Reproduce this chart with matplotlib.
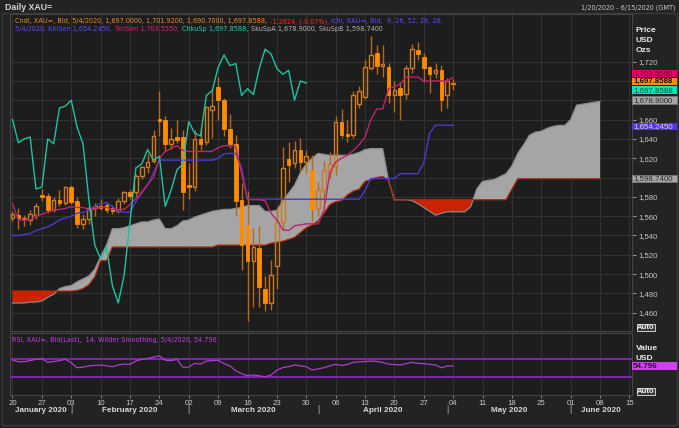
import matplotlib
matplotlib.use("Agg")
import matplotlib.pyplot as plt
import numpy as np
from matplotlib.patches import Rectangle
from matplotlib.transforms import blended_transform_factory

# ---------------- data ----------------
opens = [1558.5, 1561, 1558, 1556, 1561, 1582, 1581, 1566, 1577, 1574,
         1590, 1576, 1552, 1557, 1568, 1571, 1572, 1568, 1565, 1576,
         1585, 1585, 1602, 1611, 1617, 1661, 1660, 1635, 1642, 1642,
         1592, 1590, 1640, 1637, 1670, 1694, 1680, 1650, 1635, 1577,
         1551, 1513, 1527, 1485, 1470, 1508, 1554, 1619, 1615, 1629,
         1616, 1608, 1568, 1587, 1606, 1612, 1658, 1645, 1644, 1676,
         1683, 1713, 1729, 1716, 1714, 1686, 1693, 1687, 1713, 1732,
         1725, 1714, 1708, 1711, 1685, 1697.0]
highs = [1565, 1568, 1561, 1566, 1574, 1588, 1584, 1580, 1587, 1591,
         1592, 1580, 1562, 1570, 1574, 1578, 1575, 1572, 1579, 1586,
         1587, 1604, 1612, 1624, 1649, 1690, 1664, 1651, 1660, 1649,
         1615, 1649, 1652, 1674, 1692, 1704, 1682, 1666, 1644, 1594,
         1586, 1548, 1550, 1498, 1515, 1569, 1632, 1637, 1638, 1641,
         1628, 1623, 1595, 1617, 1626, 1664, 1671, 1660, 1690, 1695,
         1722, 1747, 1737, 1737, 1719, 1700, 1699, 1717, 1738, 1740,
         1729, 1716, 1719, 1717, 1703, 1701.92]
lows = [1555, 1547, 1550, 1551, 1557, 1576, 1563, 1564, 1570, 1572,
        1573, 1548, 1547, 1552, 1560, 1566, 1563, 1562, 1563, 1573,
        1578, 1579, 1598, 1605, 1615, 1643, 1627, 1630, 1636, 1566,
        1578, 1586, 1629, 1634, 1641, 1660, 1643, 1631, 1560, 1504,
        1451, 1466, 1466, 1462, 1463, 1484, 1546, 1595, 1610, 1607,
        1605, 1555, 1560, 1575, 1598, 1603, 1641, 1637, 1641, 1672,
        1681, 1711, 1707, 1704, 1677, 1668, 1660, 1681, 1708, 1722,
        1699, 1688, 1703, 1669, 1672, 1690.7]
closes = [1562, 1558, 1557, 1562, 1570, 1580, 1566, 1577, 1574, 1590,
          1575, 1552, 1557, 1568, 1571, 1568, 1566, 1565, 1576, 1585,
          1581, 1602, 1611, 1616, 1643, 1659, 1635, 1640, 1639, 1585,
          1590, 1640, 1635, 1673, 1674, 1680, 1650, 1635, 1576, 1530,
          1514, 1528, 1487, 1470, 1499, 1554, 1610, 1613, 1629, 1616,
          1622, 1567, 1587, 1608, 1614, 1658, 1644, 1643, 1685, 1690,
          1714, 1727, 1716, 1718, 1685, 1691, 1686, 1713, 1733, 1728,
          1713, 1707, 1711, 1680, 1700, 1697.8588]

tenkan = [1573, 1556, 1556, 1556, 1560, 1562, 1564, 1566, 1567, 1568,
          1570, 1569, 1569, 1567, 1567, 1569, 1569, 1567, 1567, 1567,
          1572, 1578, 1585, 1593, 1600, 1620, 1627, 1630, 1633, 1628,
          1627, 1627, 1627, 1627, 1627, 1631, 1633, 1633, 1632, 1604,
          1577, 1577, 1577, 1576, 1563, 1556, 1546, 1545, 1550, 1551,
          1552, 1552, 1552, 1566, 1605, 1616, 1620, 1623, 1628, 1634,
          1642, 1660, 1671, 1671, 1692, 1694, 1697, 1704, 1704, 1704,
          1700, 1700, 1700, 1700, 1700, 1703.555]
kijun = [1540, 1540, 1541, 1542, 1545, 1547, 1549, 1552, 1556, 1558,
         1560, 1563, 1564, 1566, 1570, 1573, 1574, 1570, 1565, 1564,
         1564, 1575, 1584, 1592, 1605, 1618, 1618, 1618, 1618, 1618,
         1618, 1618, 1618, 1618, 1618, 1620, 1624.6, 1625, 1625, 1610,
         1577.5, 1577.5, 1577.5, 1577.5, 1577.5, 1577.5, 1577.5, 1577.5, 1577.5, 1577.5,
         1577.5, 1577.5, 1577.5, 1577.5, 1577.5, 1577.5, 1577.5, 1577.5, 1577.5, 1577.5,
         1586.5, 1599, 1599, 1599, 1599, 1599, 1604, 1604, 1604, 1604,
         1615, 1646, 1654.245, 1654.245, 1654.245, 1654.245]
chikou = [1660, 1636, 1640, 1642, 1588, 1590, 1640, 1635, 1672, 1674,
          1680, 1652, 1635, 1577, 1530, 1516, 1528, 1488, 1470, 1499,
          1554, 1610, 1614, 1629, 1618, 1622, 1570, 1587, 1608, 1614,
          1658, 1646, 1643, 1685, 1690, 1714, 1727, 1716, 1718, 1685,
          1692, 1686, 1713, 1733, 1728, 1713, 1707, 1711, 1680, 1700,
          1697.8588]
span_a = [1470, 1470, 1470, 1471, 1471, 1472, 1476, 1479, 1485, 1487,
          1488, 1492, 1495, 1498, 1505, 1518, 1530, 1547, 1547, 1548,
          1550, 1552, 1554, 1554, 1556, 1557, 1547, 1547, 1550, 1555,
          1556, 1559, 1561, 1563, 1565, 1566, 1567, 1567, 1568, 1569,
          1571, 1571, 1571, 1565, 1565, 1566, 1576, 1584, 1592, 1605,
          1614, 1620, 1625, 1624, 1623, 1623, 1623, 1623, 1624, 1626,
          1629, 1630, 1630, 1630, 1597, 1577, 1577, 1577, 1576, 1573,
          1569, 1565, 1561, 1563, 1564.5, 1564.5, 1564.5, 1564.5, 1570, 1588,
          1596, 1597, 1598, 1601, 1604, 1612, 1625, 1634, 1644, 1647,
          1648, 1651, 1653, 1654, 1654, 1660, 1675, 1676, 1677, 1678,
          1678.9]
span_b = [1482.4, 1482.4, 1482.4, 1482.4, 1482.4, 1482.4, 1482.4, 1482.4, 1482.4, 1482.4,
          1482.4, 1483, 1485, 1489, 1497, 1514, 1514, 1528, 1528, 1528,
          1528, 1528, 1528, 1528, 1528, 1528, 1528, 1528, 1528, 1528,
          1528, 1528, 1528, 1528, 1528, 1530, 1530, 1530, 1530, 1530,
          1530, 1530, 1530, 1530, 1532, 1533, 1534, 1536, 1538, 1543,
          1548, 1551, 1555, 1563, 1572, 1575, 1576, 1582, 1586, 1588,
          1596, 1598, 1600, 1601, 1597, 1577, 1577, 1577, 1577, 1577,
          1577, 1577, 1577, 1577, 1577, 1577, 1577, 1577, 1577, 1577,
          1577, 1577, 1577, 1577, 1577, 1588, 1598.74, 1598.74, 1598.74, 1598.74,
          1598.74, 1598.74, 1598.74, 1598.74, 1598.74, 1598.74, 1598.74, 1598.74, 1598.74, 1598.74,
          1598.74]
rsi = [68, 64.5, 64.5, 67, 70, 72, 63, 65, 67, 70,
       62, 50.7, 52, 55, 56, 57, 55, 53, 57, 59,
       58.5, 66, 70, 72, 75, 78, 68, 67, 70, 52,
       52, 61, 59, 66, 67, 67.7, 60, 55, 44, 37,
       32.3, 34, 32, 30, 34, 45, 51, 53, 57, 55,
       53, 45.5, 48, 50.7, 55, 58.5, 56, 58, 63, 64,
       65, 66, 65, 63, 59, 58, 57, 60, 63, 61,
       60, 58.5, 57, 50.7, 54.5, 54.796]

week_labels = ['20', '27', '03', '10', '17', '24', '02', '09', '16', '23', '30',
               '06', '13', '20', '27', '04', '11', '18', '25', '01', '08', '15']
month_names = ['January 2020', 'February 2020', 'March 2020', 'April 2020',
               'May 2020', 'June 2020']
month_starts = [0, 10, 30, 52, 74, 95]
price_ticks = [1460, 1480, 1500, 1520, 1540, 1560, 1580, 1600, 1620, 1640,
               1660, 1680, 1700, 1720]
hidden_ticks = [1600, 1680, 1700]   # covered by value boxes in the reference

# ---------------- styling / layout ----------------
W, H = 679, 428
FIG_BG = '#232323'
AX_BG = '#1d1d1d'
GRID = '#313131'
TXT = '#c6c6c6'
plt.rcParams['font.family'] = ['Liberation Sans', 'DejaVu Sans']
COND = dict(family='DejaVu Sans', fontstretch='condensed')

fig = plt.figure(figsize=(W / 100, H / 100), dpi=100, facecolor=FIG_BG)
renderer = fig.canvas.get_renderer()


def px_axes(l, t, r, b):
    return fig.add_axes([l / W, 1 - b / H, (r - l) / W, (b - t) / H])


def ftext(x, y, s, **kw):
    return fig.text(x / W, 1 - y / H, s, **kw)


def fbox(x0, y0, x1, y1, fc, ec='none', lw=0.8, z=5):
    fig.patches.append(Rectangle((x0 / W, 1 - y1 / H), (x1 - x0) / W, (y1 - y0) / H,
                                 transform=fig.transFigure, fc=fc, ec=ec, lw=lw,
                                 zorder=z, figure=fig))


def width_px(s, size, **kw):
    t = fig.text(0, 0, s, fontsize=size, **kw)
    w = t.get_window_extent(renderer).width
    t.remove()
    return w


def chain(x, y, parts, size, gap=2.5):
    for s, c in parts:
        t = ftext(x, y, s, color=c, fontsize=size, va='center', **COND)
        x += t.get_window_extent(renderer).width + gap
    return x


XMIN, XMAX = -0.51, 105.44

# outer frame
fbox(2, 13, 677, 425, 'none', ec='#3a3a3a', lw=1.0, z=0)

ax = px_axes(9.5, 14, 632, 331)
ax.set_facecolor(AX_BG)
ax.set_xlim(XMIN, XMAX)
ax.set_ylim(1441.0, 1769.4)

mondays = np.arange(0, 106, 5)
for m in mondays:
    ax.axvline(m, color=GRID, lw=0.8, zorder=0)
for t in price_ticks:
    ax.axhline(t, color=GRID, lw=0.8, zorder=0)

# cloud
xs = np.arange(len(span_a))
A = np.array(span_a)
B = np.array(span_b)
ax.fill_between(xs, A, B, where=A >= B, interpolate=True, color='#a5a5a5', lw=0, zorder=1)
ax.fill_between(xs, A, B, where=A < B, interpolate=True, color='#cc2200', lw=0, zorder=1)
ax.plot(xs, A, color='#8c8c8c', lw=0.9, zorder=2)
ax.plot(xs, B, color='#b52a12', lw=0.9, zorder=2)

# candles
up_c = '#cf7a1c'
dn_c = '#ff8c00'
wick_c = '#b8681a'
bw = 0.62
for i, (o, h, l, c) in enumerate(zip(opens, highs, lows, closes)):
    top, bot = max(o, c), min(o, c)
    hgt = max(top - bot, 0.9)
    ax.vlines(i, top, h, color=wick_c, lw=1.0, zorder=3)
    ax.vlines(i, l, bot, color=wick_c, lw=1.0, zorder=3)
    if c >= o:
        ax.add_patch(Rectangle((i - bw / 2, bot), bw, hgt, fc='none', ec=up_c, lw=1.0, zorder=4))
    else:
        ax.add_patch(Rectangle((i - bw / 2, bot), bw, hgt, fc=dn_c, ec=dn_c, lw=0.6, zorder=4))

# ichimoku lines
ax.plot(np.arange(len(kijun)), kijun, color='#4a3ad0', lw=1.0, zorder=5)
ax.plot(np.arange(len(tenkan)), tenkan, color='#c0246a', lw=1.0, zorder=5)
ax.plot(np.arange(len(chikou)), chikou, color='#1cc49e', lw=1.0, zorder=5)

for s in ax.spines.values():
    s.set_color('#454545')
    s.set_linewidth(0.8)
ax.set_xticks([])
ax.yaxis.tick_right()
ax.set_yticks(price_ticks)
ax.set_yticklabels(['' if t in hidden_ticks else f"{t:,}" for t in price_ticks])
ax.tick_params(axis='y', colors='#9a9a9a', labelcolor=TXT, labelsize=5.6, length=3, width=0.7, pad=1.5)

# legend text lines (sized so the first segment spans the same width as the reference)
seg1 = 'Cndl, XAU=, Bid, 5/4/2020, 1,697.0000, 1,701.9200, 1,690.7000, 1,697.8588,'
fs = 6.0 * 255.0 / width_px(seg1, 6.0, **COND)
chain(15, 21.5, [(seg1, '#f08a1c'),
                 ('-1.2624, (-0.07%),', '#ff2a2a'),
                 ('Ichi, XAU=, Bid,  9, 26, 52, 26, 26,', '#5a4cff')], fs)
chain(15, 29.5, [(f'5/4/2020, KinSen {kijun[-1]:,.4f},', '#5a4cff'),
                 (f'TknSen {tenkan[-1]:,.4f},', '#e0207a'),
                 (f'ChkuSp {chikou[-1]:,.4f},', '#1cd6aa'),
                 (f'SkuSpA {span_a[-1]:,.4f}, SkuSpB {span_b[-1]:,.4f}', '#b4b4b4')], fs)

# title bar
ftext(5, 7.5, 'Daily XAU=', color='#d4d4d4', fontsize=6.3, va='center', fontweight='bold')
ftext(675, 7.5, '1/20/2020 - 6/15/2020 (GMT)', color='#c8c8c8', fontsize=fs, va='center',
      ha='right', **COND)

# right axis headers
for yy, s in [(31, 'Price'), (41, 'USD'), (51, 'Ozs')]:
    ftext(636, yy, s, color='#e8e8e8', fontsize=6.0, va='center', fontweight='bold')

# value boxes
boxes = [
    (73.3, f'{tenkan[-1]:,.4f}', '#e8006a', '#5a0028', 'normal'),
    (81.3, f'{closes[-1]:,.4f}', '#ff8c00', '#111111', 'bold'),
    (90.0, f'{chikou[-1]:,.4f}', '#00e8b8', '#004838', 'normal'),
    (100.0, f'{span_a[-1]:,.4f}', '#a5a5a5', '#2a2a2a', 'normal'),
    (126.6, f'{kijun[-1]:,.4f}', '#5534e8', '#d8d0ff', 'normal'),
    (178.7, f'{span_b[-1]:,.4f}', '#a5a5a5', '#2a2a2a', 'normal'),
]
for yy, s, fc, tc, fw in boxes:
    fbox(632, yy - 3.7, 677, yy + 3.7, fc, ec='#777777' if fc == '#a5a5a5' else 'none', lw=0.6)
    ftext(633, yy + 0.2, s, color=tc, fontsize=5.7, va='center', fontweight=fw, zorder=6)


def auto_box(yc):
    fbox(637, yc - 3.5, 655, yc + 3.5, '#3a3a3a', ec='#cfcfcf', lw=0.7)
    ftext(646, yc + 0.2, 'Auto', color='#f0f0f0', fontsize=5.6, va='center', ha='center',
          fontweight='bold', zorder=6)


auto_box(327.5)

# ---------------- RSI panel ----------------
ax2 = px_axes(9.5, 333, 632, 395)
ax2.set_facecolor(AX_BG)
ax2.set_xlim(XMIN, XMAX)
ax2.set_ylim(-12, 130.5)
for m in mondays:
    ax2.axvline(m, color=GRID, lw=0.8, zorder=0)
for lvl in [70, 30]:
    ax2.axhline(lvl, color='#8a22c8', lw=1.3, zorder=2)
ax2.plot(np.arange(len(rsi)), rsi, color='#b03ccc', lw=0.9, zorder=3)
for s in ax2.spines.values():
    s.set_color('#454545')
    s.set_linewidth(0.8)
ax2.set_yticks([])
ax2.set_xticks(mondays)
ax2.set_xticklabels(week_labels)
ax2.tick_params(axis='x', colors='#9a9a9a', labelcolor=TXT, labelsize=5.6, length=2, width=0.6, pad=1.5)

rsi_label = f'RSI, XAU=, Bid(Last),  14, Wilder Smoothing, 5/4/2020, {rsi[-1]:.3f}'
rs = 5.6 * 205.0 / width_px(rsi_label, 5.6, **COND)
ftext(12, 340, rsi_label, color='#c040e0', fontsize=rs, va='center', **COND)
ftext(636, 349, 'Value', color='#e8e8e8', fontsize=6.0, va='center', fontweight='bold')
ftext(636, 358, 'USD', color='#e8e8e8', fontsize=6.0, va='center', fontweight='bold')
fbox(632, 362.2, 677, 370, '#d040f0')
ftext(633, 366.3, f'{rsi[-1]:.3f}', color='#3a0048', fontsize=5.9, va='center', fontweight='bold', zorder=6)
auto_box(391)

# month labels + separators
trans = blended_transform_factory(ax2.transData, fig.transFigure)
bounds = month_starts + [XMAX]
lefts = [XMIN] + month_starts[1:]
for k, name in enumerate(month_names):
    cx = (lefts[k] + bounds[k + 1]) / 2
    fig.text(cx, 1 - 411 / H, name, transform=trans, color='#d8d8d8', fontsize=5.9,
             ha='center', va='center', fontweight='bold')
for ms in month_starts[1:]:
    fig.text(ms, 1 - 410 / H, '|', transform=trans, color='#b0b0b0', fontsize=6.5,
             ha='center', va='center')

fig.savefig('out.png', dpi=100, facecolor=FIG_BG)
